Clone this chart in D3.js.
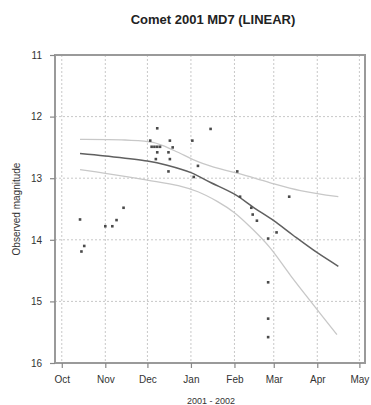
<!DOCTYPE html>
<html>
<head>
<meta charset="utf-8">
<script src="https://cdn.jsdelivr.net/npm/d3@7"></script>
<style>
  body { margin: 0; background: #fff; }
  svg { font-family: Arial, "Liberation Sans", sans-serif; }
</style>
</head>
<body>
<div id="chart"></div>
<script>
// observations
const obsDates = [
  '2001-10-14', '2001-10-15', '2001-10-17',
  '2001-11-01', '2001-11-06', '2001-11-09', '2001-11-14',
  '2001-12-03', '2001-12-04', '2001-12-06', '2001-12-08', '2001-12-10',
  '2001-12-08', '2001-12-08', '2001-12-07', '2001-12-16', '2001-12-17',
  '2001-12-17', '2001-12-19', '2001-12-16',
  '2002-01-02', '2002-01-03', '2002-01-06', '2002-01-15',
  '2002-02-03', '2002-02-05', '2002-02-13', '2002-02-14', '2002-02-17',
  '2002-03-03', '2002-02-25', '2002-02-25', '2002-02-25', '2002-02-25',
  '2002-03-12'
];
const obsMags = [
  13.67, 14.19, 14.10,
  13.78, 13.78, 13.68, 13.48,
  12.39, 12.49, 12.49, 12.49, 12.49,
  12.19, 12.58, 12.69, 12.58, 12.69,
  12.39, 12.50, 12.89,
  12.39, 12.98, 12.80, 12.20,
  12.89, 13.30, 13.48, 13.59, 13.69,
  13.88, 13.98, 14.69, 15.28, 15.58,
  13.30
];

// fitted curve and the two bands
const fitDates = ['2001-10-14', '2001-11-01', '2001-12-01', '2001-12-15', '2002-01-01', '2002-01-15',
  '2002-02-01', '2002-02-15', '2002-03-01', '2002-03-15', '2002-04-01', '2002-04-16'];
const fitMags = [12.60, 12.64, 12.72, 12.79, 12.91, 13.07, 13.26, 13.48, 13.69, 13.93, 14.21, 14.43];

const upperDates = ['2001-10-14', '2001-11-15', '2001-12-05', '2001-12-20', '2002-01-06', '2002-01-22',
  '2002-02-05', '2002-02-26', '2002-03-20', '2002-04-16'];
const upperMags = [12.37, 12.38, 12.42, 12.55, 12.73, 12.85, 12.93, 13.07, 13.20, 13.30];

const lowerDates = ['2001-10-14', '2001-11-01', '2001-12-01', '2001-12-23', '2002-01-06', '2002-01-20',
  '2002-02-01', '2002-02-14', '2002-02-26', '2002-03-13', '2002-03-28', '2002-04-15'];
const lowerMags = [12.86, 12.92, 13.03, 13.12, 13.22, 13.38, 13.56, 13.83, 14.12, 14.58, 15.02, 15.54];

const magTicks = [11, 12, 13, 14, 15, 16];

const width = 371, height = 405;
const margin = { top: 55, right: 6, bottom: 42, left: 55 };
const innerW = width - margin.left - margin.right;
const innerH = height - margin.top - margin.bottom;

const parse = d3.timeParse('%Y-%m-%d');
const zip = (ds, ms) => ds.map((d, i) => ({ date: parse(d), mag: ms[i] }));

const obs = zip(obsDates, obsMags);
const fit = zip(fitDates, fitMags);
const upper = zip(upperDates, upperMags);
const lower = zip(lowerDates, lowerMags);

const svg = d3.select('#chart').append('svg')
  .attr('width', width)
  .attr('height', height);

const g = svg.append('g')
  .attr('transform', `translate(${margin.left},${margin.top})`);

const x = d3.scaleTime()
  .domain([new Date(2001, 8, 26, 4), new Date(2002, 4, 5)])
  .range([0, innerW]);

const y = d3.scaleLinear()
  .domain([11, 16])
  .range([0, innerH]);

const months = d3.timeMonth.range(new Date(2001, 9, 1), new Date(2002, 4, 2));

// grid
g.append('g').selectAll('line')
  .data(months)
  .join('line')
  .attr('x1', d => x(d)).attr('x2', d => x(d))
  .attr('y1', 0).attr('y2', innerH)
  .attr('stroke', '#c8c8c8')
  .attr('stroke-dasharray', '2,2');

g.append('g').selectAll('line')
  .data(magTicks.slice(1, -1))
  .join('line')
  .attr('x1', 0).attr('x2', innerW)
  .attr('y1', d => y(d)).attr('y2', d => y(d))
  .attr('stroke', '#c8c8c8')
  .attr('stroke-dasharray', '2,2');

// frame
g.append('rect')
  .attr('width', innerW)
  .attr('height', innerH)
  .attr('fill', 'none')
  .attr('stroke', '#9a9a9a')
  .attr('stroke-width', 2);

// axes
const xAxis = g.append('g')
  .attr('transform', `translate(0,${innerH})`)
  .call(d3.axisBottom(x).tickValues(months).tickFormat(d3.timeFormat('%b')).tickSize(5).tickPadding(8));

const yAxis = g.append('g')
  .call(d3.axisLeft(y).tickValues(magTicks).tickFormat(d3.format('d')).tickSize(5).tickPadding(8));

[xAxis, yAxis].forEach(a => {
  a.select('.domain').remove();
  a.selectAll('.tick line').attr('stroke', '#888').attr('stroke-width', 1.2);
  a.selectAll('.tick text')
    .attr('fill', '#333')
    .style('font-size', '10px')
    .style('font-family', 'Arial, "Liberation Sans", sans-serif');
});

// curves
const line = d3.line()
  .x(d => x(d.date))
  .y(d => y(d.mag))
  .curve(d3.curveCatmullRom.alpha(0.5));

g.append('path').datum(upper)
  .attr('d', line)
  .attr('fill', 'none')
  .attr('stroke', '#c8c8c8')
  .attr('stroke-width', 1.3);

g.append('path').datum(lower)
  .attr('d', line)
  .attr('fill', 'none')
  .attr('stroke', '#c8c8c8')
  .attr('stroke-width', 1.3);

g.append('path').datum(fit)
  .attr('d', line)
  .attr('fill', 'none')
  .attr('stroke', '#606060')
  .attr('stroke-width', 1.5);

// points
g.append('g').selectAll('rect')
  .data(obs)
  .join('rect')
  .attr('x', d => x(d.date) - 1.3)
  .attr('y', d => y(d.mag) - 1.3)
  .attr('width', 2.6)
  .attr('height', 2.6)
  .attr('fill', '#4a4a4a');

// titles
svg.append('text')
  .attr('x', 213)
  .attr('y', 24)
  .attr('text-anchor', 'middle')
  .style('font-size', '13px')
  .style('font-weight', 'bold')
  .attr('fill', '#222')
  .text('Comet 2001 MD7 (LINEAR)');

svg.append('text')
  .attr('transform', `translate(20,${margin.top + innerH / 2}) rotate(-90)`)
  .attr('text-anchor', 'middle')
  .style('font-size', '10px')
  .attr('fill', '#333')
  .text('Observed magnitude');

svg.append('text')
  .attr('x', margin.left + innerW / 2 + 1)
  .attr('y', 404)
  .attr('text-anchor', 'middle')
  .style('font-size', '9px')
  .attr('fill', '#333')
  .text('2001 - 2002');
</script>
</body>
</html>
